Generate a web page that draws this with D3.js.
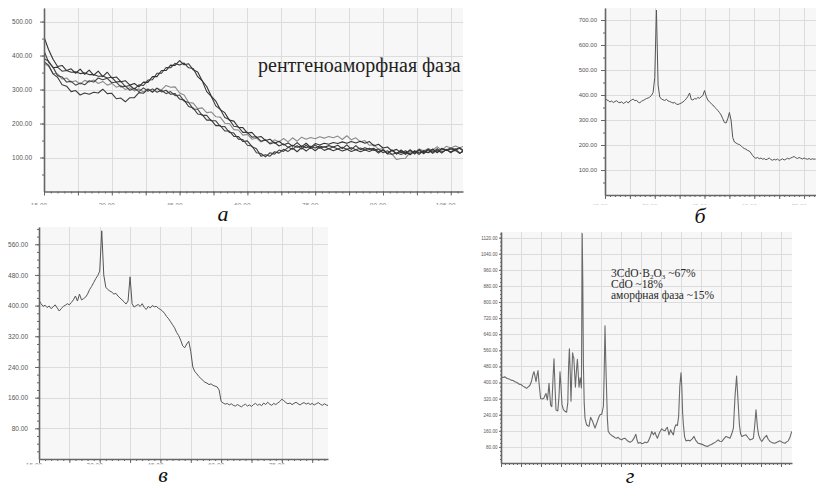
<!DOCTYPE html>
<html>
<head>
<meta charset="utf-8">
<script src="https://cdn.jsdelivr.net/npm/d3@7"></script>
<style>
  body { margin: 0; background: #fff; }
  svg { display: block; }
</style>
</head>
<body>
<script>
// ---- panel а : five amorphous scans, 2θ from 15, step 1 ----
const aStart = 15, aStep = 1;
const aScan1 = [455,418,389,368,371,356,361,348,360,345, 357,342,354,338,351,334,337,323,326,313,
  318,308,322,321,338,338,356,356,372,371, 385,373,376,358,352,326,309,281,266,241,
  232,210,207,189,188,172,174,159,162,150, 154,142,148,137,143,133,144,132,142,130,
  141,137,142,139,144,141,146,142,147,143, 148,142,147,134,139,128,131,119,124,114,
  120,108,119,113,118,114,125,114,126,121, 125,122,127,116];
const aScan2 = [391,384,364,366,354,356,351,352,347,349, 344,344,339,340,334,336,322,324,309,312,
  301,314,312,328,329,348,348,365,364,377, 372,378,364,362,338,326,294,280,252,242,
  218,212,192,190,174,174,160,161,148,152, 140,145,134,140,130,136,130,134,129,133,
  128,134,130,135,131,136,126,137,124,135, 123,129,124,127,117,122,111,122,110,120,
  109,121,110,121,111,123,112,123,113,124, 114,125,113,119];
const aScan3 = [382,372,346,336,314,310,294,297,284,290, 286,292,290,301,288,289,273,275,264,276,
  276,291,289,302,292,304,293,298,286,288, 272,269,250,246,228,226,210,210,194,194,
  178,178,162,162,147,149,132,126,104,108, 104,117,113,124,118,128,117,129,119,130,
  120,131,121,126,120,125,119,124,118,123, 117,122,118,124,113,123,112,122,111,122,
  112,123,113,124,114,125,115,126,116,122, 117,121,112,123];
const aScan4 = [414,381,366,341,337,322,324,313,319,314, 326,322,334,329,333,320,322,308,310,298,
  304,294,305,295,302,292,298,288,294,282, 284,266,262,243,242,224,224,208,208,192,
  191,174,172,154,153,136,134,114,112,102, 114,110,122,118,130,124,135,125,136,126,
  137,127,132,126,131,125,130,124,129,123, 128,122,127,121,125,114,120,109,114,109,
  115,110,120,109,121,115,120,116,127,122, 128,124,129,118];
const aScan5 = [376,369,348,346,331,334,322,326,316,327, 322,328,318,324,313,318,307,312,300,305,
  296,302,293,300,294,304,299,312,307,308, 290,284,262,260,244,246,232,234,220,219,
  201,200,182,181,166,168,154,157,146,152, 142,152,146,156,146,158,148,160,154,159,
  155,161,157,162,158,163,153,164,152,158, 146,150,136,138,124,126,110,110,94,97,
  98,116,114,125,120,126,122,132,121,133, 128,134,129,134];
const aYTicks = [100, 200, 300, 400, 500];
const aXLabels = [15, 30, 45, 60, 75, 90, 105];
const aNote = 'рентгеноаморфная фаза';

// ---- panel б : 2θ from 15, step 0.5 ----
const bStart = 15, bStep = 0.5;
const bScan = [387,380,378,372,376,370,374,377,371,369, 373,366,370,374,368,376,380,384,377,379,
  371,369,375,378,382,386,388,392,398,410, 470,740,440,392,384,381,378,383,376,374,
  371,368,370,364,362,365,368,372,378,385, 395,408,382,380,386,384,390,387,393,398,
  418,395,380,372,366,360,352,346,338,330, 320,305,290,288,305,330,300,230,212,208,
  204,202,197,190,186,183,178,176,168,158, 150,147,150,145,148,143,146,141,144,148,
  142,139,143,140,144,138,141,145,140,143, 147,144,148,151,154,149,146,150,147,144,
  148,145,143,146,142,145,143,144];
const bYTicks = [100, 200, 300, 400, 500, 600, 700];
const bXLabels = [15, 30, 45, 60, 75];

// ---- panel в : 2θ from 15, step 0.5 ----
const cStart = 15, cStep = 0.5;
const cScan = [414,405,398,401,395,399,392,397,402,394, 386,392,398,401,405,402,408,415,425,412,
  430,415,418,422,430,442,450,460,470,478, 490,595,480,448,442,438,435,430,432,425,
  420,415,410,404,412,475,405,396,400,403, 398,405,395,390,398,394,400,397,398,393,
  390,386,380,372,366,358,350,342,330,322, 310,295,290,300,307,280,240,228,222,215,
  210,205,200,198,194,196,192,190,188,180, 150,146,143,145,141,144,140,138,142,139,
  136,140,143,138,141,137,142,145,140,143, 139,146,142,148,143,140,145,142,146,150,
  156,152,147,144,146,142,145,148,144,141, 145,147,143,146,142,145,141,144,147,143,
  140,144,141,139];
const cYTicks = [80, 160, 240, 320, 400, 480, 560];
const cXLabels = [15, 30, 45, 60, 75];

// ---- panel г : crystallised sample, [2θ, counts] ----
const dScan = [[15,429],[15.5,425],[16,428],[16.5,420],[17,418],[17.5,412],[18,410],[18.5,404],[19,400],[19.5,392],
  [20,390],[20.5,382],[21,376],[21.4,371],[21.8,378],[22.2,385],[22.6,405],[23,440],[23.25,454],[23.5,430],
  [23.75,404],[24,435],[24.25,459],[24.5,400],[24.9,321],[25.3,318],[25.7,322],[26,335],[26.25,346],[26.4,330],
  [26.6,313],[26.8,350],[27,396],[27.2,340],[27.4,288],[27.7,280],[28,420],[28.25,518],[28.5,380],[28.75,263],
  [29.2,259],[29.5,330],[29.75,453],[30,380],[30.25,290],[30.6,265],[31,257],[31.4,252],[31.7,300],[31.9,480],
  [32.1,568],[32.3,450],[32.5,307],[32.7,440],[32.9,548],[33.05,530],[33.2,523],[33.4,450],[33.6,377],[33.9,470],
  [34.1,515],[34.3,450],[34.5,377],[34.65,400],[34.8,423],[35,390],[35.1,373],[35.2,700],[35.3,1140],[35.45,900],
  [35.6,490],[35.8,300],[36,223],[36.4,190],[36.7,185],[37,182],[37.4,227],[37.7,215],[37.9,207],[38.2,190],
  [38.5,173],[38.8,190],[39.1,207],[39.4,225],[39.75,240],[40.2,243],[40.6,282],[40.8,450],[41,682],[41.2,500],
  [41.4,357],[41.6,220],[41.8,158],[42.2,145],[42.7,137],[43.1,132],[43.5,126],[43.9,123],[44.3,128],[44.7,119],
  [45.2,115],[45.6,122],[46,123],[46.5,112],[47,106],[47.25,103],[47.8,110],[48.3,125],[48.7,143],[49,115],
  [49.3,98],[49.8,102],[50.2,96],[50.6,98],[51,104],[51.4,100],[51.8,107],[52.3,130],[52.7,157],[53.1,140],
  [53.5,153],[53.8,135],[54.1,123],[54.6,150],[55.2,170],[55.6,163],[56,160],[56.3,172],[56.6,177],[57,140],
  [57.4,165],[57.7,152],[58.1,140],[58.4,175],[58.75,190],[59.1,186],[59.4,230],[59.7,380],[60,448],[60.2,380],
  [60.4,250],[60.6,190],[60.9,130],[61.25,110],[61.8,113],[62.25,110],[62.8,120],[63.25,132],[63.7,112],[64.3,98],
  [64.9,95],[65.6,90],[66.1,85],[66.6,82],[67.1,88],[67.6,92],[68.1,98],[68.7,105],[69.3,115],[69.7,108],
  [70.2,107],[70.7,120],[71.25,132],[71.7,128],[72.25,123],[72.7,145],[73.1,173],[73.5,330],[73.9,432],[74.2,330],
  [74.6,190],[74.9,145],[75.2,132],[75.7,137],[76.25,140],[76.7,128],[77.25,115],[77.7,118],[78.1,123],[78.4,180],
  [78.75,265],[79.1,180],[79.4,140],[79.8,118],[80.2,107],[80.8,125],[81.4,137],[81.8,118],[82.25,107],[82.9,100],
  [83.5,98],[84.1,104],[84.75,110],[85.4,102],[86,98],[86.4,105],[86.8,110],[87.2,125],[87.7,157]];
const dYTicks = [80,160,240,320,400,480,560,640,720,800,880,960,1040,1120];
const dNotes = [
  [['3CdO·B', 0], ['2', 1], ['O', 0], ['3', 1], [' ~67%', 0]],
  [['CdO ~18%', 0]],
  [['аморфная фаза ~15%', 0]]
];

const captions = ['а', 'б', 'в', 'г'];

// regular scans -> [x, y]
const toPts = (arr, start, step) => arr.map((v, i) => [start + i * step, v]);

const svg = d3.select('body').append('svg')
  .attr('width', 816)
  .attr('height', 489);

const sans = '"Liberation Sans", Arial, sans-serif';
const serif = '"Liberation Serif", "Times New Roman", serif';

function drawPanel(p) {
  const x = d3.scaleLinear().domain(p.xDomain).range([p.l, p.r]);
  const y = d3.scaleLinear().domain([0, p.yMax]).range([p.b, p.t]);
  const g = svg.append('g');
  const px = v => Math.round(v) + 0.5;

  g.append('rect')
    .attr('x', p.l).attr('y', p.t)
    .attr('width', p.r - p.l).attr('height', p.b - p.t)
    .attr('fill', '#f7f7f7');

  // grid
  const grid = g.append('g').attr('stroke', '#dcdcdc').attr('shape-rendering', 'crispEdges');
  grid.selectAll('.gx').data(p.xGrid).join('line')
    .attr('x1', d => px(x(d))).attr('x2', d => px(x(d)))
    .attr('y1', p.t).attr('y2', p.b);
  grid.selectAll('.gy').data(p.yTicks).join('line')
    .attr('x1', p.l).attr('x2', p.r)
    .attr('y1', d => px(y(d))).attr('y2', d => px(y(d)));

  // series
  svg.append('clipPath').attr('id', 'clip-' + p.id)
    .append('rect')
    .attr('x', p.l).attr('y', p.t - 2)
    .attr('width', p.r - p.l).attr('height', p.b - p.t + 2);

  const line = d3.line().x(d => x(d[0])).y(d => y(d[1]));
  p.series.forEach(s => {
    g.append('path')
      .datum(s.pts)
      .attr('clip-path', `url(#clip-${p.id})`)
      .attr('fill', 'none')
      .attr('stroke', s.color)
      .attr('stroke-width', s.width)
      .attr('stroke-linejoin', 'round')
      .attr('d', line);
  });

  // y axis
  const ya = g.append('g')
    .attr('transform', `translate(${p.l},0)`)
    .call(d3.axisLeft(y).tickValues(p.yTicks).tickFormat(d3.format('.2f'))
      .tickSize(p.tick).tickSizeOuter(0).tickPadding(p.pad));
  ya.select('.domain').attr('stroke', '#666').attr('stroke-width', 1.6);
  ya.selectAll('.tick line').attr('stroke', '#666');
  ya.selectAll('text').attr('fill', '#555').style('font', `${p.fs}px ${sans}`);

  const ym = g.append('g')
    .attr('transform', `translate(${p.l},0)`)
    .call(d3.axisLeft(y).tickValues(p.yMinor).tickFormat('').tickSize(p.tick / 2).tickSizeOuter(0));
  ym.select('.domain').remove();
  ym.selectAll('.tick line').attr('stroke', '#666');

  // x axis
  const xa = g.append('g')
    .attr('transform', `translate(0,${p.b})`)
    .call(d3.axisBottom(x).tickValues(p.xGrid).tickFormat('').tickSize(4).tickSizeOuter(0));
  xa.select('.domain').attr('stroke', '#666').attr('stroke-width', 1.4);
  xa.selectAll('.tick line').attr('stroke', '#666');

  const xm = g.append('g')
    .attr('transform', `translate(0,${p.b})`)
    .call(d3.axisBottom(x).tickValues(p.xMinor).tickFormat('').tickSize(2).tickSizeOuter(0));
  xm.select('.domain').remove();
  xm.selectAll('.tick line').attr('stroke', '#666');

  // x labels, cut off by the picture edge below the axis
  if (p.xLabels) {
    svg.append('clipPath').attr('id', 'lab-' + p.id)
      .append('rect').attr('x', 0).attr('y', p.b + 2)
      .attr('width', 816).attr('height', p.labCut - p.b - 2);
    g.append('g').attr('clip-path', `url(#lab-${p.id})`)
      .selectAll('text').data(p.xLabels).join('text')
      .attr('x', d => x(d) - 5)
      .attr('y', p.labCut + 3.2)
      .attr('text-anchor', 'middle')
      .attr('fill', '#888')
      .style('font', `${p.fs}px ${sans}`)
      .text(d3.format('.2f'));
  }
  return { x, y, g };
}

const minor = (lo, hi, st) => d3.range(lo, hi + 1e-9, st);

// а
drawPanel({
  id: 'a', l: 44, r: 463, t: 8, b: 191.5,
  xDomain: [15, 107.7], yMax: 540,
  xGrid: minor(15, 107.7, 7.5), xMinor: minor(15, 107.7, 1.5),
  yTicks: aYTicks, yMinor: minor(50, 540, 50),
  xLabels: aXLabels, labCut: 205,
  tick: 4, pad: 8, fs: 6.5,
  series: [
    { pts: toPts(aScan5, aStart, aStep), color: '#8a8a8a', width: 1.1 },
    { pts: toPts(aScan4, aStart, aStep), color: '#444', width: 1.1 },
    { pts: toPts(aScan3, aStart, aStep), color: '#3a3a3a', width: 1.1 },
    { pts: toPts(aScan2, aStart, aStep), color: '#3a3a3a', width: 1.1 },
    { pts: toPts(aScan1, aStart, aStep), color: '#333', width: 1.1 }
  ]
});
svg.append('text')
  .attr('x', 258).attr('y', 72)
  .attr('fill', '#222')
  .style('font', `20px ${serif}`)
  .text(aNote);

// б
drawPanel({
  id: 'b', l: 605, r: 816, t: 8, b: 195,
  xDomain: [15, 78.6], yMax: 748,
  xGrid: minor(15, 78.6, 7.5), xMinor: minor(15, 78.6, 1.5),
  yTicks: bYTicks, yMinor: minor(50, 748, 50),
  xLabels: bXLabels, labCut: 204.5,
  tick: 4, pad: 4, fs: 6,
  series: [{ pts: toPts(bScan, bStart, bStep), color: '#555', width: 1 }]
});

// в
drawPanel({
  id: 'c', l: 39, r: 328, t: 227, b: 459,
  xDomain: [15, 86.4], yMax: 605,
  xGrid: minor(15, 86.4, 7.5), xMinor: minor(15, 86.4, 1.5),
  yTicks: cYTicks, yMinor: minor(20, 605, 20),
  xLabels: cXLabels, labCut: 464.5,
  tick: 4, pad: 7, fs: 6.5,
  series: [{ pts: toPts(cScan, cStart, cStep), color: '#555', width: 1 }]
});

// г
drawPanel({
  id: 'd', l: 501, r: 792, t: 232, b: 463,
  xDomain: [15, 87.75], yMax: 1148,
  xGrid: minor(15, 87.75, 5), xMinor: minor(15, 87.75, 1),
  yTicks: dYTicks, yMinor: minor(20, 1148, 20),
  xLabels: null,
  tick: 2, pad: 1.5, fs: 4.6,
  series: [{ pts: dScan, color: '#6a6a6a', width: 1.1 }]
});
const note = svg.append('text')
  .attr('fill', '#2a2a2a')
  .style('font', `11.5px ${serif}`);
dNotes.forEach((parts, i) => {
  const row = note.append('tspan').attr('x', 611).attr('y', 277 + i * 11);
  parts.forEach(([txt, sub]) => {
    const t = row.append('tspan').text(txt);
    if (sub) t.attr('font-size', 7).attr('dy', 2);
    else if (row.selectAll('tspan').size() > 1) t.attr('dy', -2);
  });
});

// panel captions
const capPos = [[223, 221], [700, 223], [163, 482], [630, 483]];
svg.append('g').selectAll('text').data(captions).join('text')
  .attr('x', (d, i) => capPos[i][0])
  .attr('y', (d, i) => capPos[i][1])
  .attr('text-anchor', 'middle')
  .attr('fill', '#111')
  .style('font', `italic 22px ${serif}`)
  .text(d => d);
</script>
</body>
</html>
